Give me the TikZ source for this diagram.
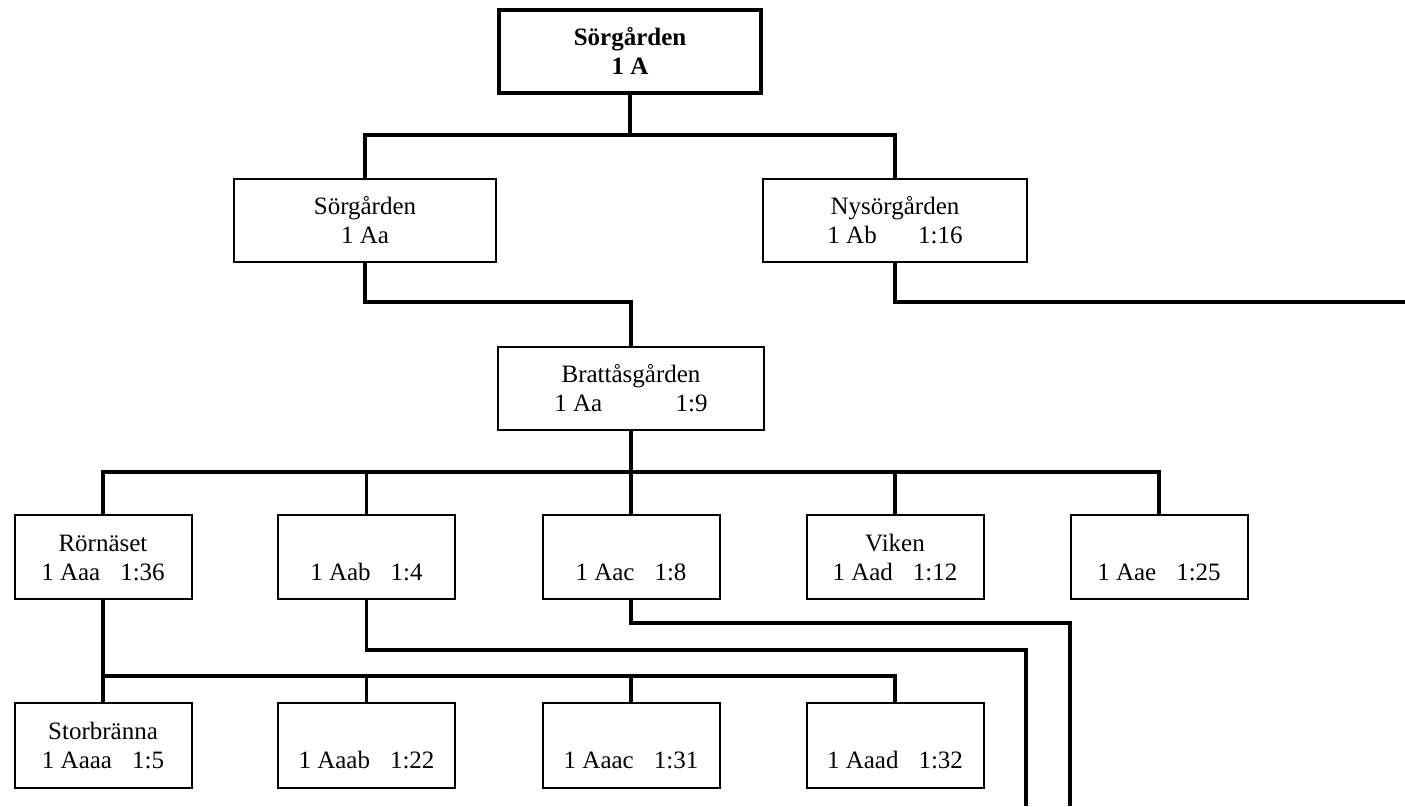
\documentclass[tikz,border=0pt]{standalone}
\usepackage{fontspec}
\setmainfont{Liberation Serif}
\newcommand\twol[2]{\rule[-4pt]{0pt}{21pt}#1\\\rule[-4pt]{0pt}{21pt}#2}
\begin{document}
\begin{tikzpicture}[x=0.75pt,y=-0.75pt,
  box/.style={draw,line width=1.5pt,inner sep=0pt,align=center,
    font=\fontsize{18.75pt}{21.75pt}\selectfont,minimum height=62.5pt},
  wbox/.style={box,minimum width=197pt},
  sbox/.style={box,minimum width=132.75pt,minimum height=63.5pt},
  conn/.style={line width=2.5pt}]
\useasboundingbox (0,0) rectangle (1405,806);
% nodes
\node[wbox,line width=3pt,font=\fontsize{18.75pt}{21.75pt}\selectfont\bfseries] (top) at (630,51.5) {\twol{Sörgården}{1 A}};
\node[wbox] (s1) at (365,220.5) {\twol{Sörgården}{1 Aa}};
\node[wbox,minimum width=198pt] (s2) at (895,220.5) {\twol{Nysörgården}{1 Ab\hspace{31pt}1:16}};
\node[wbox,minimum width=200pt] (br) at (631,388.5) {\twol{Brattåsgården}{1 Aa\hspace{55pt}1:9}};
\node[sbox] (l3a) at (103,557) {\twol{Rörnäset}{1 Aaa\hspace{15pt}1:36}};
\node[sbox] (l3b) at (366.5,557) {\twol{}{1 Aab\hspace{15pt}1:4}};
\node[sbox] (l3c) at (631,557) {\twol{}{1 Aac\hspace{15pt}1:8}};
\node[sbox] (l3d) at (895,557) {\twol{Viken}{1 Aad\hspace{15pt}1:12}};
\node[sbox] (l3e) at (1159,557) {\twol{}{1 Aae\hspace{15pt}1:25}};
\node[sbox] (l4a) at (103,745.5) {\twol{Storbränna}{1 Aaaa\hspace{15pt}1:5}};
\node[sbox] (l4b) at (366.5,745.5) {\twol{}{1 Aaab\hspace{15pt}1:22}};
\node[sbox] (l4c) at (631,745.5) {\twol{}{1 Aaac\hspace{15pt}1:31}};
\node[sbox] (l4d) at (895,745.5) {\twol{}{1 Aaad\hspace{15pt}1:32}};
% bus levels and free ends
\coordinate (bus1) at (0,135);
\coordinate (bus2) at (0,302);
\coordinate (bus3) at (0,472);
\coordinate (bus4) at (0,676);
\coordinate (busb) at (0,650);
\coordinate (busc) at (0,623);
\coordinate (endN) at (1405,302);
\coordinate (endB) at (1026,806);
\coordinate (endC) at (1070,806);
% connectors
\draw[conn] (top.south) -- (top.south |- bus1);
\draw[conn] (s1.north) |- (s2.north |- bus1) -- (s2.north);
\draw[conn] (s1.south) |- (br.north |- bus2) -- (br.north);
\draw[conn] (s2.south) |- (endN);
\draw[conn] (br.south) -- (l3c.north);
\draw[conn] (l3a.north) |- (l3e.north |- bus3) -- (l3e.north);
\draw[conn] (l3b.north) -- (l3b.north |- bus3);
\draw[conn] (l3d.north) -- (l3d.north |- bus3);
\draw[conn] (l3a.south) -- (l4a.north);
\draw[conn] (l4a.north |- bus4) -| (l4d.north);
\draw[conn] (l4b.north) -- (l4b.north |- bus4);
\draw[conn] (l4c.north) -- (l4c.north |- bus4);
\draw[conn] (l3b.south) |- (endB |- busb) -- (endB);
\draw[conn] (l3c.south) |- (endC |- busc) -- (endC);
\end{tikzpicture}
\end{document}
